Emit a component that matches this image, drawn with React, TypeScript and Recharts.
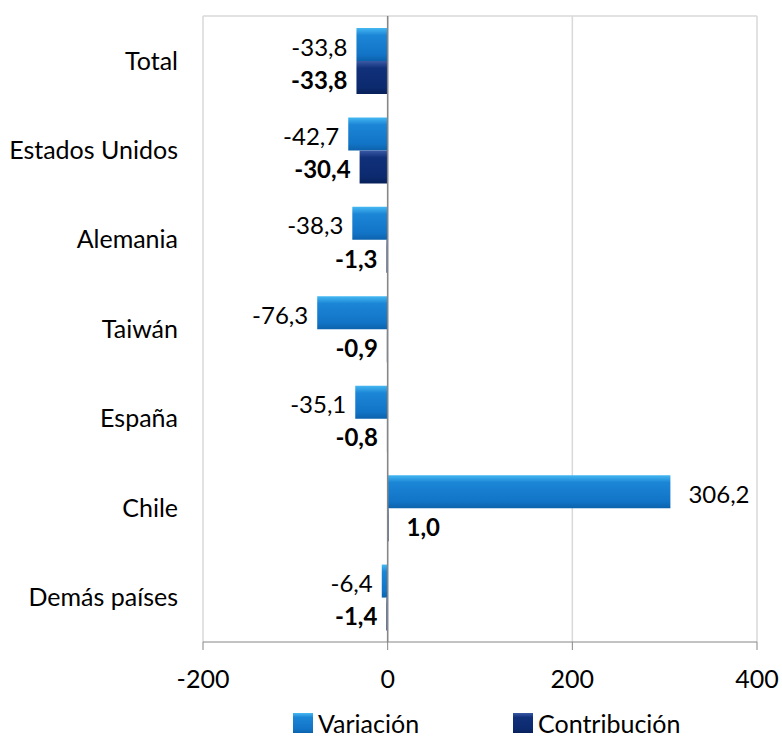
import { BarChart, Bar, XAxis, YAxis, CartesianGrid, ReferenceLine, Legend, LabelList } from "recharts";

const PAISES = ["Total", "Estados Unidos", "Alemania", "Taiwán", "España", "Chile", "Demás países"];
const VARIACION = [-33.8, -42.7, -38.3, -76.3, -35.1, 306.2, -6.4];
const CONTRIBUCION = [-33.8, -30.4, -1.3, -0.9, -0.8, 1.0, -1.4];
const X_TICKS = [-200, 0, 200, 400];

const data = PAISES.map((pais, i) => ({
  pais,
  variacion: VARIACION[i],
  contribucion: CONTRIBUCION[i],
}));

const FONT = "Lato, 'Open Sans', sans-serif";
const fmt = (v: number) => v.toFixed(1).replace(".", ",");

// eslint-disable-next-line @typescript-eslint/no-explicit-any
const makeLabel = (bold: boolean) => (props: any) => {
  const { x, y, width, height, value } = props;
  const left = Math.min(x, x + width);
  const right = Math.max(x, x + width);
  const neg = value < 0;
  return (
    <text
      x={neg ? left - 9 : right + 18}
      y={y + height / 2 + 5}
      textAnchor={neg ? "end" : "start"}
      dominantBaseline="middle"
      fontFamily={FONT}
      fontSize={24}
      fontWeight={bold ? 700 : 400}
      fill="#000"
    >
      {fmt(value)}
    </text>
  );
};

function LegendBox({ id }: { id: string }) {
  return (
    <svg width={20} height={20} style={{ display: "block" }}>
      <rect x={0} y={0} width={20} height={20} fill={`url(#${id})`} />
    </svg>
  );
}

function CustomLegend() {
  const item = (left: number, id: string, label: string) => (
    <div style={{ position: "absolute", left, top: 12, height: 37, display: "flex", alignItems: "center", gap: 5 }}>
      <LegendBox id={id} />
      <span>{label}</span>
    </div>
  );
  return (
    <div style={{ position: "relative", width: 782, height: 49, fontFamily: FONT, fontSize: 25, color: "#000" }}>
      {item(293, "gVar", "Variación")}
      {item(513, "gCon", "Contribución")}
    </div>
  );
}

export default function App() {
  return (
    <div style={{ position: "absolute", left: 0, top: 0, width: 782, height: 741, background: "#fff" }}>
      <svg width={0} height={0} style={{ position: "absolute" }}>
        <defs>
          <linearGradient id="gVar" x1="0" y1="0" x2="0" y2="1">
            <stop offset="0%" stopColor="#45B8F2" />
            <stop offset="22%" stopColor="#1C86D6" />
            <stop offset="80%" stopColor="#1274C6" />
            <stop offset="100%" stopColor="#0C62AC" />
          </linearGradient>
          <linearGradient id="gCon" x1="0" y1="0" x2="0" y2="1">
            <stop offset="0%" stopColor="#3A5AA6" />
            <stop offset="22%" stopColor="#10307A" />
            <stop offset="80%" stopColor="#0C2A6E" />
            <stop offset="100%" stopColor="#08205A" />
          </linearGradient>
        </defs>
      </svg>
      <BarChart
        width={782}
        height={741}
        data={data}
        layout="vertical"
        margin={{ top: 16, right: 25, bottom: 0, left: 0 }}
        barSize={33}
        barGap={0}
        style={{ overflow: "visible" }}
      >
        <CartesianGrid
          stroke="#d9d9d9"
          strokeWidth={1.5}
          horizontal={true}
          vertical={true}
          // eslint-disable-next-line @typescript-eslint/no-explicit-any
          horizontalCoordinatesGenerator={(p: any) => [p.offset.top]}
        />
        <XAxis
          type="number"
          domain={[-200, 400]}
          ticks={X_TICKS}
          stroke="#868686"
          tickSize={8}
          tickMargin={20}
          height={50}
          tick={{ fill: "#000", fontSize: 25, fontFamily: FONT }}
        />
        <YAxis
          type="category"
          dataKey="pais"
          width={203}
          axisLine={false}
          tickLine={false}
          tickSize={0}
          tickMargin={25}
          tick={{ fill: "#000", fontSize: 25, fontFamily: FONT }}
        />
        <ReferenceLine x={0} stroke="#868686" strokeWidth={1.5} />
        <Legend verticalAlign="bottom" content={() => <CustomLegend />} />
        <Bar dataKey="variacion" name="Variación" fill="url(#gVar)" isAnimationActive={false}>
          <LabelList dataKey="variacion" content={makeLabel(false)} />
        </Bar>
        <Bar dataKey="contribucion" name="Contribución" fill="url(#gCon)" isAnimationActive={false}>
          <LabelList dataKey="contribucion" content={makeLabel(true)} />
        </Bar>
      </BarChart>
    </div>
  );
}
